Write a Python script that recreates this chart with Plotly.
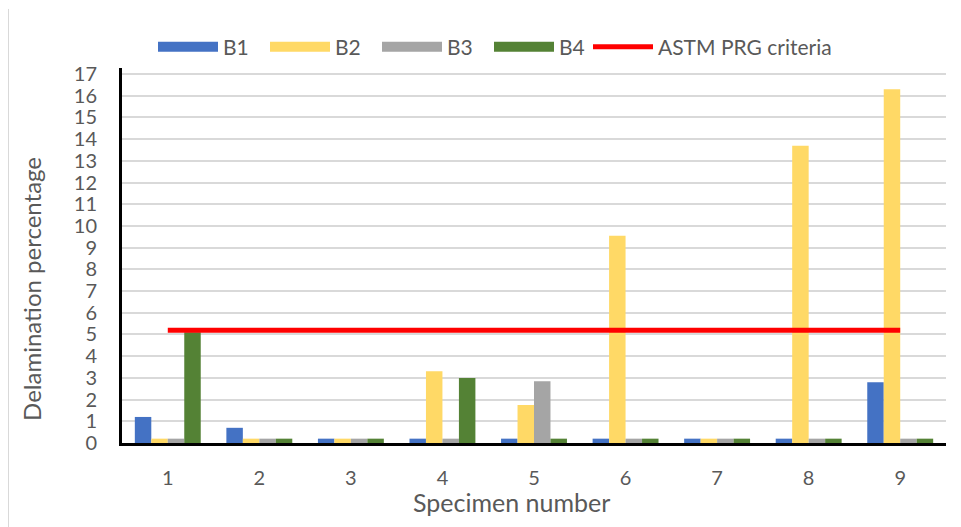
import plotly.graph_objects as go

specimens = ["1", "2", "3", "4", "5", "6", "7", "8", "9"]
b1 = [1.2, 0.7, 0.2, 0.2, 0.2, 0.2, 0.2, 0.2, 2.8]
b2 = [0.2, 0.2, 0.2, 3.3, 1.75, 9.55, 0.2, 13.7, 16.3]
b3 = [0.2, 0.2, 0.2, 0.2, 2.85, 0.2, 0.2, 0.2, 0.2]
b4 = [5.1, 0.2, 0.2, 3.0, 0.2, 0.2, 0.2, 0.2, 0.2]
criteria = [5.2] * 9
y_ticks = list(range(0, 18))

colors = {"B1": "#4472C4", "B2": "#FFD966", "B3": "#A5A5A5", "B4": "#548235"}

fig = go.Figure()
for name, vals in [("B1", b1), ("B2", b2), ("B3", b3), ("B4", b4)]:
    fig.add_trace(go.Bar(x=specimens, y=vals, name=name, marker_color=colors[name],
                         marker_line_width=0, showlegend=False))
fig.add_trace(go.Scatter(x=specimens, y=criteria, name="ASTM PRG criteria", mode="lines",
                         line=dict(color="#FF0000", width=5), showlegend=False))

# legend entries (wide swatches like the original)
for name in ["B1", "B2", "B3", "B4"]:
    fig.add_trace(go.Scatter(x=[None], y=[None], mode="lines", name=name,
                             line=dict(color=colors[name], width=14), legend="legend"))
fig.add_trace(go.Scatter(x=[None], y=[None], mode="lines", name="ASTM PRG criteria",
                         line=dict(color="#FF0000", width=5), legend="legend2"))

font = "Lato, Liberation Sans, sans-serif"
# plot area in figure px: x 114..938, y 50..435
L, R, T, B = 114, 938, 50, 435
W, H = R - L, B - T
fig.update_layout(
    width=961, height=527,
    margin=dict(l=L, r=961 - R, t=T, b=527 - B),
    paper_bgcolor="white", plot_bgcolor="white",
    barmode="group", bargap=0.28, bargroupgap=0,
    font=dict(family=font, color="#595959", size=20),
    legend=dict(orientation="h", x=145 / 961, xanchor="left", xref="container",
                y=1 - 39 / 527, yanchor="middle", yref="container",
                font=dict(size=21, color="#595959"), itemwidth=60, entrywidth=37,
                tracegroupgap=0),
    legend2=dict(orientation="h", x=580 / 961, xanchor="left", xref="container",
                 y=1 - 39 / 527, yanchor="middle", yref="container",
                 font=dict(size=21, color="#595959"), itemwidth=60),
    xaxis=dict(showline=True, linecolor="black", linewidth=3, showgrid=False,
               ticks="", ticklabelstandoff=15, automargin=False),
    yaxis=dict(range=[0, 17.3], tickvals=y_ticks, showline=True, linecolor="black",
               linewidth=3, showgrid=True, gridcolor="#D9D9D9", gridwidth=1.5,
               zeroline=False, ticks="", ticklabelstandoff=18, automargin=False),
    annotations=[
        dict(text="Delamination percentage", xref="paper", yref="paper",
             x=(24 - L) / W, y=(B - 277) / H, textangle=-90,
             showarrow=False, font=dict(size=24, color="#595959"),
             xanchor="center", yanchor="middle"),
        dict(text="Specimen number", xref="paper", yref="paper",
             x=(503 - L) / W, y=(B - 495) / H,
             showarrow=False, font=dict(size=25, color="#595959"),
             xanchor="center", yanchor="middle"),
    ],
)

# chart outer border (left and right edges)
for px in (0.5, 947):
    fig.add_shape(type="line", xref="paper", yref="paper",
                  x0=(px - L) / W, x1=(px - L) / W,
                  y0=(B - 527) / H, y1=(B + 10) / H,
                  line=dict(color="#D9D9D9", width=1), layer="below")

fig.write_html("out.html")
